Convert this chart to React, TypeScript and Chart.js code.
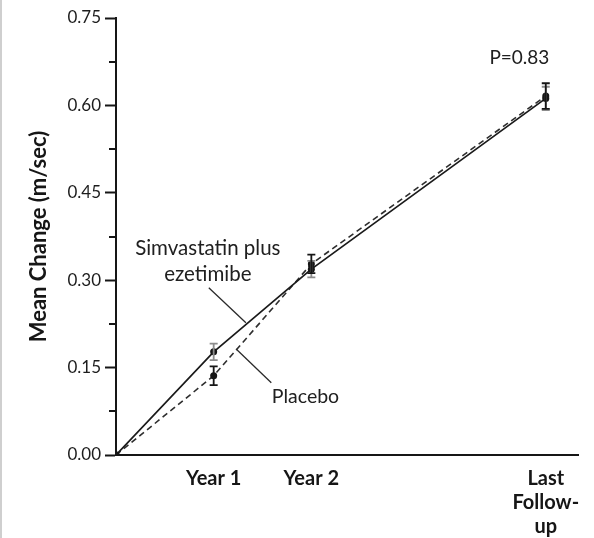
import { useEffect, useRef } from 'react';
import { Chart, registerables } from 'chart.js';

Chart.register(...registerables);

// Study visits (years from baseline; last follow-up placed at its mean time)
const timePoints = [0, 1, 2, 4.4];
const xTickValues = [1, 2, 4.4];
const xTickLabels: string[][] = [['Year 1'], ['Year 2'], ['Last', 'Follow-', 'up']];

// Mean change in peak aortic-jet velocity (m/sec) with standard errors
const simvastatinMean = [0, 0.177, 0.319, 0.612];
const simvastatinSE = [0, 0.014, 0.014, 0.02];
const placeboMean = [0, 0.136, 0.328, 0.616];
const placeboSE = [0, 0.016, 0.016, 0.022];

// Y axis: 0.00–0.75, labelled every 0.15 with a minor tick between
const yMin = 0;
const yMax = 0.75;
const yStep = 0.075;

const yTitle = 'Mean Change (m/sec)';
const pValueText = 'P=0.83';

const FONT = 'Lato, "Noto Sans", sans-serif';
const INK = '#161616';

// Direct series labels with their leader lines, placed in data units
const seriesCallouts = [
  {
    lines: ['Simvastatin plus', 'ezetimibe'],
    at: { x: 0.94, y: 0.354 },
    leader: [{ x: 0.95, y: 0.287 }, { x: 1.33, y: 0.227 }],
  },
  {
    lines: ['Placebo'],
    at: { x: 1.94, y: 0.1 },
    leader: [{ x: 1.23, y: 0.182 }, { x: 1.59, y: 0.124 }],
  },
];
const pValueAt = { x: 4.13, y: 0.681 };

const toPoints = (means: number[]) => timePoints.map((x, i) => ({ x, y: means[i] }));

const overlayPlugin = {
  id: 'overlay',
  beforeDraw(chart: any) {
    const { ctx, height } = chart;
    ctx.save();
    ctx.fillStyle = '#cfcfcf';
    ctx.fillRect(0, 0, 2, height);
    ctx.restore();
  },
  afterDatasetsDraw(chart: any) {
    const { ctx, scales, chartArea } = chart;
    const xs = scales.x;
    const ys = scales.y;
    ctx.save();

    // minor y ticks (shorter than the labelled ones)
    ctx.strokeStyle = INK;
    ctx.lineWidth = 2;
    ys.ticks.forEach((t: any, i: number) => {
      if (i % 2 === 1) {
        const py = Math.round(ys.getPixelForValue(t.value));
        ctx.beginPath();
        ctx.moveTo(chartArea.left - 7, py);
        ctx.lineTo(chartArea.left, py);
        ctx.stroke();
      }
    });

    // error bars
    const drawErrors = (means: number[], errs: number[], color: string) => {
      ctx.strokeStyle = color;
      ctx.lineWidth = 1.8;
      timePoints.forEach((t, i) => {
        if (!errs[i]) return;
        const px = xs.getPixelForValue(t);
        const top = ys.getPixelForValue(means[i] + errs[i]);
        const bot = ys.getPixelForValue(means[i] - errs[i]);
        ctx.beginPath();
        ctx.moveTo(px, top);
        ctx.lineTo(px, bot);
        ctx.moveTo(px - 4, top);
        ctx.lineTo(px + 4, top);
        ctx.moveTo(px - 4, bot);
        ctx.lineTo(px + 4, bot);
        ctx.stroke();
      });
    };
    drawErrors(simvastatinMean, simvastatinSE, '#8c8c8c');
    drawErrors(placeboMean, placeboSE, INK);

    // callouts
    ctx.fillStyle = '#202020';
    ctx.textAlign = 'center';
    ctx.textBaseline = 'middle';
    seriesCallouts.forEach((c) => {
      ctx.font = `${c.lines.length > 1 ? 20.5 : 19.5}px ${FONT}`;
      const cx = xs.getPixelForValue(c.at.x);
      const cy = ys.getPixelForValue(c.at.y);
      c.lines.forEach((line, k) => ctx.fillText(line, cx, cy + k * 26));
      ctx.strokeStyle = '#2a2a2a';
      ctx.lineWidth = 1.3;
      ctx.beginPath();
      ctx.moveTo(xs.getPixelForValue(c.leader[0].x), ys.getPixelForValue(c.leader[0].y));
      ctx.lineTo(xs.getPixelForValue(c.leader[1].x), ys.getPixelForValue(c.leader[1].y));
      ctx.stroke();
    });
    ctx.font = `19px ${FONT}`;
    ctx.fillText(pValueText, xs.getPixelForValue(pValueAt.x), ys.getPixelForValue(pValueAt.y));
    ctx.restore();
  },
};

export default function App() {
  const canvasRef = useRef<HTMLCanvasElement | null>(null);

  useEffect(() => {
    document.body.style.margin = '0';
    const canvas = canvasRef.current;
    if (!canvas) return;
    const chart = new Chart(canvas, {
      type: 'line',
      data: {
        datasets: [
          {
            label: 'Simvastatin plus ezetimibe',
            data: toPoints(simvastatinMean),
            borderColor: '#1a1a1a',
            borderWidth: 1.7,
            pointRadius: 3.5,
            pointBackgroundColor: INK,
            pointBorderColor: INK,
            pointBorderWidth: 0,
            tension: 0,
          },
          {
            label: 'Placebo',
            data: toPoints(placeboMean),
            borderColor: '#2e2e2e',
            borderWidth: 1.6,
            borderDash: [6, 4],
            pointRadius: 3.5,
            pointBackgroundColor: INK,
            pointBorderColor: INK,
            pointBorderWidth: 0,
            tension: 0,
          },
        ],
      },
      options: {
        responsive: false,
        animation: false,
        layout: { padding: { top: 18, right: 16, left: 0, bottom: 0 } },
        plugins: {
          legend: { display: false },
          tooltip: { enabled: false },
        },
        scales: {
          x: {
            type: 'linear',
            min: 0,
            max: 4.73,
            afterBuildTicks: (s: any) => {
              s.ticks = xTickValues.map((value) => ({ value }));
            },
            afterFit: (s: any) => {
              s.height = 83;
            },
            grid: { display: false, drawTicks: false },
            border: { display: true, color: INK, width: 2 },
            ticks: {
              autoSkip: false,
              maxRotation: 0,
              padding: 12,
              color: INK,
              font: { family: FONT, size: 20, weight: 'bold', lineHeight: 1.2 },
              callback: (v: any) => xTickLabels[xTickValues.indexOf(Number(v))] ?? '',
            },
          },
          y: {
            type: 'linear',
            min: yMin,
            max: yMax,
            afterFit: (s: any) => {
              s.width = 116;
            },
            grid: {
              drawOnChartArea: false,
              drawTicks: true,
              tickLength: 11,
              tickWidth: 2,
              tickColor: (c: any) => (c.index % 2 === 0 ? INK : 'rgba(0,0,0,0)'),
            },
            border: { display: true, color: INK, width: 2 },
            ticks: {
              stepSize: yStep,
              padding: 4,
              color: '#1c1c1c',
              font: { family: FONT, size: 17 },
              callback: (v: any, i: number) => (i % 2 === 0 ? Number(v).toFixed(2) : ''),
            },
            title: {
              display: true,
              text: yTitle,
              color: INK,
              font: { family: FONT, size: 22, weight: 'bold' },
              padding: { top: 26, bottom: 0 },
            },
          },
        },
      },
      plugins: [overlayPlugin],
    });
    return () => chart.destroy();
  }, []);

  return <canvas ref={canvasRef} width={594} height={538} style={{ display: 'block' }} />;
}
